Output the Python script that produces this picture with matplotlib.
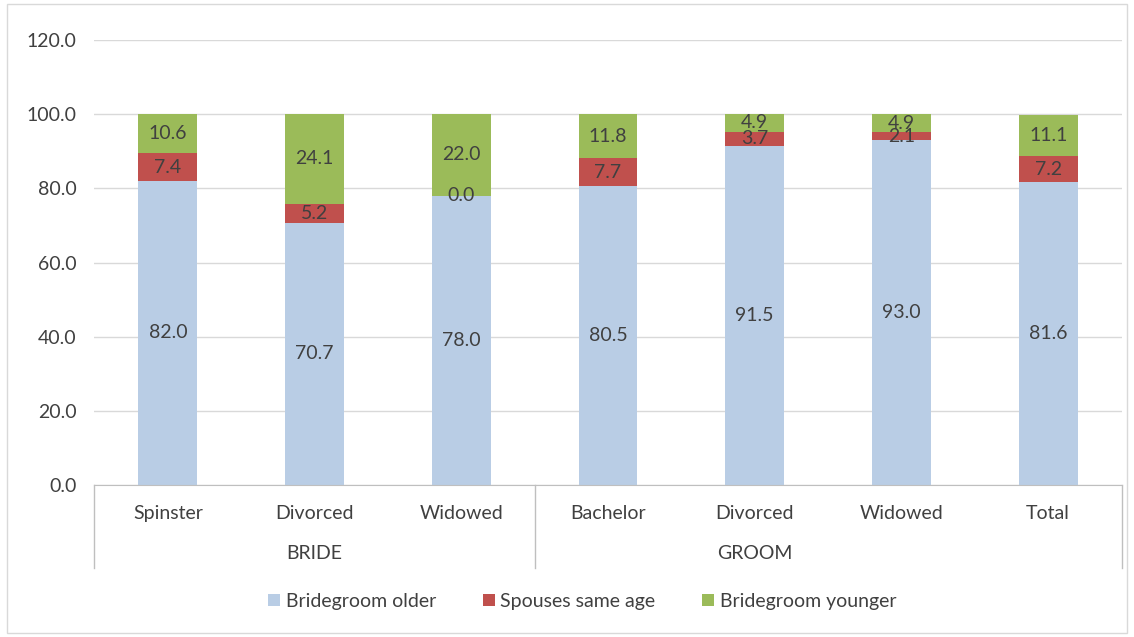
import matplotlib.pyplot as plt
from matplotlib.patches import Rectangle
import numpy as np

plt.rcParams['font.family'] = ['Lato', 'DejaVu Sans']

# Data
categories = ["Spinster", "Divorced", "Widowed", "Bachelor", "Divorced", "Widowed", "Total"]
groups = ["BRIDE", "GROOM"]
group_sizes = [3, 3]
older = [82.0, 70.7, 78.0, 80.5, 91.5, 93.0, 81.6]
same_age = [7.4, 5.2, 0.0, 7.7, 3.7, 2.1, 7.2]
younger = [10.6, 24.1, 22.0, 11.8, 4.9, 4.9, 11.1]
series_names = ["Bridegroom older", "Spouses same age", "Bridegroom younger"]
colors = ["#B9CDE5", "#C0504D", "#9BBB59"]
text_col = "#404040"
fs = 14

fig = plt.figure(figsize=(11.34, 6.37), dpi=100)
fig.patches.append(Rectangle((0.006, 0.006), 0.988, 0.988, transform=fig.transFigure,
                             fill=False, edgecolor="#D9D9D9", linewidth=1))
ax = fig.add_axes([0.0833, 0.2386, 0.9057, 0.6986])

x = np.arange(len(categories))
bottom = np.zeros(len(categories))
for vals, col, name in zip([older, same_age, younger], colors, series_names):
    vals = np.array(vals)
    ax.bar(x, vals, width=0.4, bottom=bottom, color=col, label=name, zorder=2)
    for xi, b, v in zip(x, bottom, vals):
        ax.text(xi, b + v / 2, f"{v:.1f}", ha="center", va="center",
                fontsize=fs, color=text_col, zorder=3)
    bottom += vals

ax.set_xlim(-0.5, len(categories) - 0.5)
ax.set_ylim(0, 120)
ax.set_yticks(np.arange(0, 121, 20))
ax.set_yticklabels([f"{v:.1f}" for v in np.arange(0, 121, 20)], fontsize=fs, color=text_col)
ax.yaxis.grid(True, color="#D9D9D9", linewidth=1, zorder=0)
ax.set_axisbelow(True)
for s in ["top", "right", "left"]:
    ax.spines[s].set_visible(False)
ax.spines["bottom"].set_color("#BFBFBF")
ax.tick_params(axis="y", length=0, pad=13)
ax.set_xticks([])

# category labels and group labels below the axis
trans = ax.get_xaxis_transform()
for xi, c in zip(x, categories):
    ax.text(xi, -0.063, c, transform=trans, ha="center", va="center",
            fontsize=fs, color=text_col, clip_on=False)
start = 0
for g, n in zip(groups, group_sizes):
    ax.text(start + (n - 1) / 2, -0.153, g, transform=trans, ha="center", va="center",
            fontsize=fs, color=text_col, clip_on=False)
    start += n

# separators: left edge, between groups, right edge (Total sits under GROOM's box)
seps = [-0.5, group_sizes[0] - 0.5, len(categories) - 0.5]
for s in seps:
    ax.plot([s, s], [0, -0.187], transform=trans, color="#BFBFBF", linewidth=1, clip_on=False)

ax.legend(loc="center", bbox_to_anchor=(0.475, -0.262), ncol=3, frameon=False,
          fontsize=fs, labelcolor=text_col, handlelength=0.6, handleheight=0.6,
          handletextpad=0.3, columnspacing=2.4)

fig.savefig("out.png", dpi=100)
